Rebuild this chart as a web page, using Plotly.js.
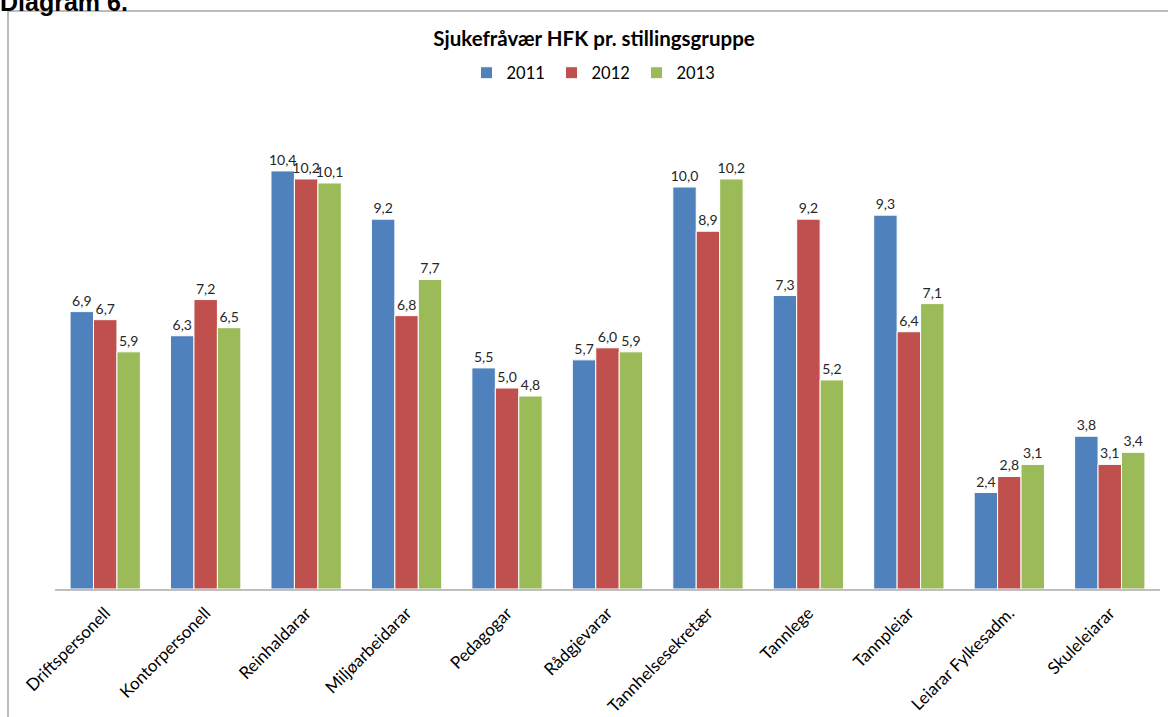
<!DOCTYPE html>
<html>
<head>
<meta charset="utf-8">
<script src="https://cdn.plot.ly/plotly-3.0.1.min.js"></script>
<style>html,body{margin:0;padding:0;background:#fff;}#chart{width:1168px;height:717px;}</style>
</head>
<body>
<div id="chart"></div>
<script>
const categories = ["Driftspersonell","Kontorpersonell","Reinhaldarar","Miljøarbeidarar","Pedagogar","Rådgjevarar","Tannhelsesekretær","Tannlege","Tannpleiar","Leiarar Fylkesadm.","Skuleleiarar"];
const seriesNames = ["2011","2012","2013"];
const values2011 = [6.9,6.3,10.4,9.2,5.5,5.7,10.0,7.3,9.3,2.4,3.8];
const values2012 = [6.7,7.2,10.2,6.8,5.0,6.0,8.9,9.2,6.4,2.8,3.1];
const values2013 = [5.9,6.5,10.1,7.7,4.8,5.9,10.2,5.2,7.1,3.1,3.4];
const colors = ["#4F81BD","#C0504D","#9BBB59"];

const W = 1168, H = 717;
const L = 55, R = 8, T = 100, B = 128;
const pw = W - L - R, ph = H - T - B;
const px = x => (x - L) / pw;
const py = y => (H - B - y) / ph;

const FONT = "Lato, 'Open Sans', sans-serif";
const allVals = [values2011, values2012, values2013];
const traces = allVals.map((v, i) => ({
  type: "bar",
  name: seriesNames[i],
  x: categories,
  y: v,
  marker: {color: colors[i], line: {color: "#ffffff", width: 1}},
  text: v.map(d => d.toFixed(1).replace(".", ",")),
  textposition: "outside",
  constraintext: "none",
  cliponaxis: false,
  textfont: {family: FONT, size: 14, color: "#262626"},
  hoverinfo: "x+y"
}));

const layout = {
  width: W, height: H,
  margin: {l: L, r: R, t: T, b: B, pad: 0},
  paper_bgcolor: "#ffffff",
  plot_bgcolor: "#ffffff",
  separators: ", ",
  barmode: "group",
  bargap: 0.3,
  bargroupgap: 0.0,
  showlegend: true,
  font: {family: FONT, color: "#000000"},
  title: {
    text: "<b>Sjukefråvær HFK pr. stillingsgruppe</b>",
    font: {family: FONT, size: 20.5, color: "#000000"},
    x: px(594), xref: "paper", xanchor: "center",
    y: 1 - 39 / H, yanchor: "middle"
  },
  legend: {
    orientation: "h",
    x: px(594), xanchor: "center",
    y: py(73), yanchor: "middle",
    font: {family: FONT, size: 16.5, color: "#000000"},
    itemwidth: 30,
    entrywidth: 40,
    entrywidthmode: "pixels",
    traceorder: "normal"
  },
  xaxis: {
    type: "category",
    tickangle: -45,
    tickfont: {family: FONT, size: 17, color: "#000000"},
    ticklabelstandoff: 6,
    showline: true, linecolor: "#BFBFBF", linewidth: 1.5,
    ticks: "", showgrid: false, zeroline: false,
    fixedrange: true
  },
  yaxis: {
    range: [0, ph / 40.2],
    visible: false,
    showgrid: false, zeroline: false,
    fixedrange: true
  },
  shapes: [{
    type: "rect", xref: "paper", yref: "paper",
    x0: px(8), x1: px(1180), y0: py(730), y1: py(11),
    line: {color: "#A6A6A6", width: 1.5}, fillcolor: "rgba(0,0,0,0)", layer: "below"
  }],
  annotations: [{
    text: "<b>Diagram 6.</b>",
    xref: "paper", yref: "paper",
    x: px(-2), xanchor: "left",
    y: py(2), yanchor: "middle",
    showarrow: false,
    font: {family: "Liberation Sans, Arial, sans-serif", size: 25, color: "#000000"}
  }]
};

Plotly.newPlot("chart", traces, layout, {displayModeBar: false, staticPlot: true});
</script>
</body>
</html>
